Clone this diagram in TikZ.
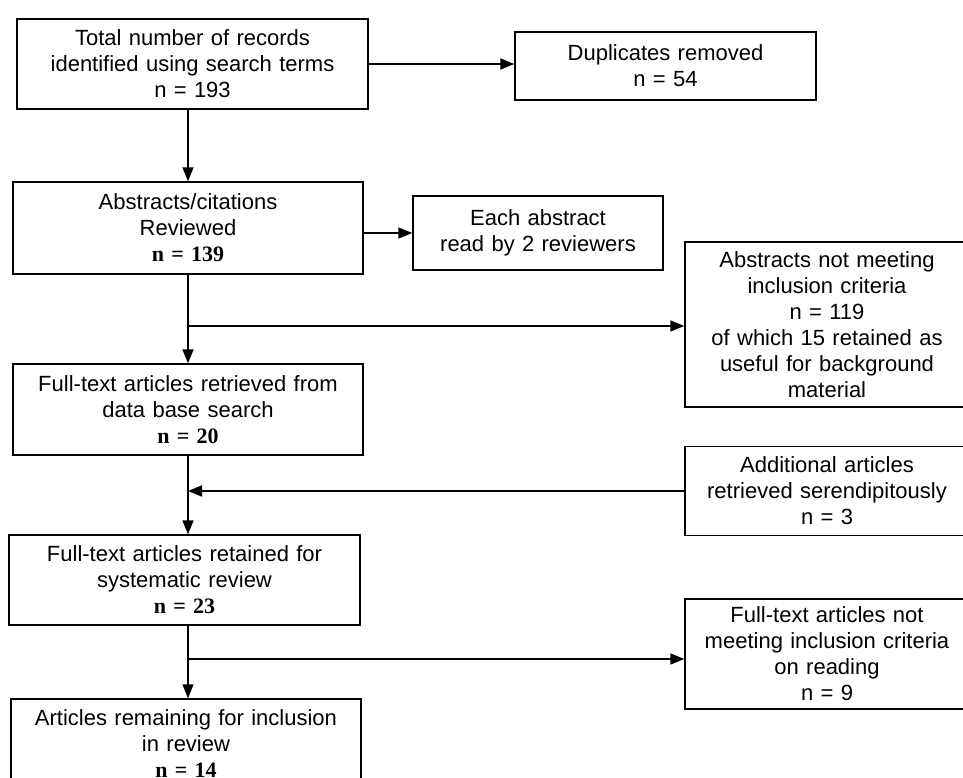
\documentclass[tikz,border=0pt]{standalone}
\usepackage{fontspec}
\setmainfont{Liberation Sans}
\newfontfamily\countfont{Liberation Serif}
\usetikzlibrary{arrows.meta}
\newcommand{\ncount}[1]{{\countfont\bfseries #1}}

\begin{document}
\begin{tikzpicture}[x=1pt, y=-1pt, line width=1.6pt, >={Triangle[length=14pt,width=11pt]},
    font=\fontsize{22}{26}\selectfont,
    box/.style={draw, line width=1.4pt, align=center, inner xsep=3pt, inner ysep=0pt}]
\useasboundingbox (0,0) rectangle (963,778);
% main column
\node[box, minimum width=351pt, text width=345pt, minimum height=90pt] (total) at (192.5,64) {Total number of records\\ identified using search terms\\ n = 193};
\node[box, minimum width=350pt, text width=344pt, minimum height=92pt] (abs) at (188,228) {Abstracts/citations\\ Reviewed\\ \ncount{n = 139}};
\node[box, minimum width=350pt, text width=344pt, minimum height=91pt] (ftret) at (188,409.5) {Full-text articles retrieved from\\ data base search\\ \ncount{n = 20}};
\node[box, minimum width=351pt, text width=345pt, minimum height=90pt] (ftsys) at (184.5,580) {Full-text articles retained for\\ systematic review\\ \ncount{n = 23}};
\node[box, minimum width=350pt, text width=344pt, minimum height=90pt] (remain) at (186,744) {Articles remaining for inclusion\\ in review\\ \ncount{n = 14}};
% side boxes
\node[box, minimum width=301pt, text width=295pt, minimum height=68pt] (dup) at (665.5,66) {Duplicates removed\\ n = 54};
\node[box, minimum width=250pt, text width=244pt, minimum height=74pt] (each) at (538,233) {Each abstract\\ read by 2 reviewers};
\node[box, minimum width=284pt, text width=278pt, minimum height=165pt] (absnot) at (827,324.5) {Abstracts not meeting\\ inclusion criteria\\ n = 119\\ of which 15 retained as\\ useful for background\\ material};
\node[box, minimum width=284pt, text width=278pt, minimum height=89pt] (addl) at (827,491) {Additional articles\\ retrieved serendipitously\\ n = 3};
\node[box, minimum width=284pt, text width=278pt, minimum height=110pt] (ftnot) at (827,654) {Full-text articles not\\ meeting inclusion criteria\\ on reading\\ n = 9};
% connectors
\coordinate (b1) at (188,326);
\coordinate (b3) at (188,659);
\draw[->] (total.east) -- (total.east -| dup.west);
\draw[->] (abs.north |- total.south) -- (abs.north);
\draw[->] (each.west -| abs.east) -- (each.west);
\draw[->] (abs.south) -- (ftret.north);
\draw[->] (b1) -- (b1 -| absnot.west);
\draw[->] (addl.west) -- (addl.west -| ftret.south);
\draw[->] (ftret.south) -- (ftret.south |- ftsys.north);
\draw[->] (b3 |- ftsys.south) -- (b3 |- remain.north);
\draw[->] (b3) -- (b3 -| ftnot.west);
\end{tikzpicture}
\end{document}
